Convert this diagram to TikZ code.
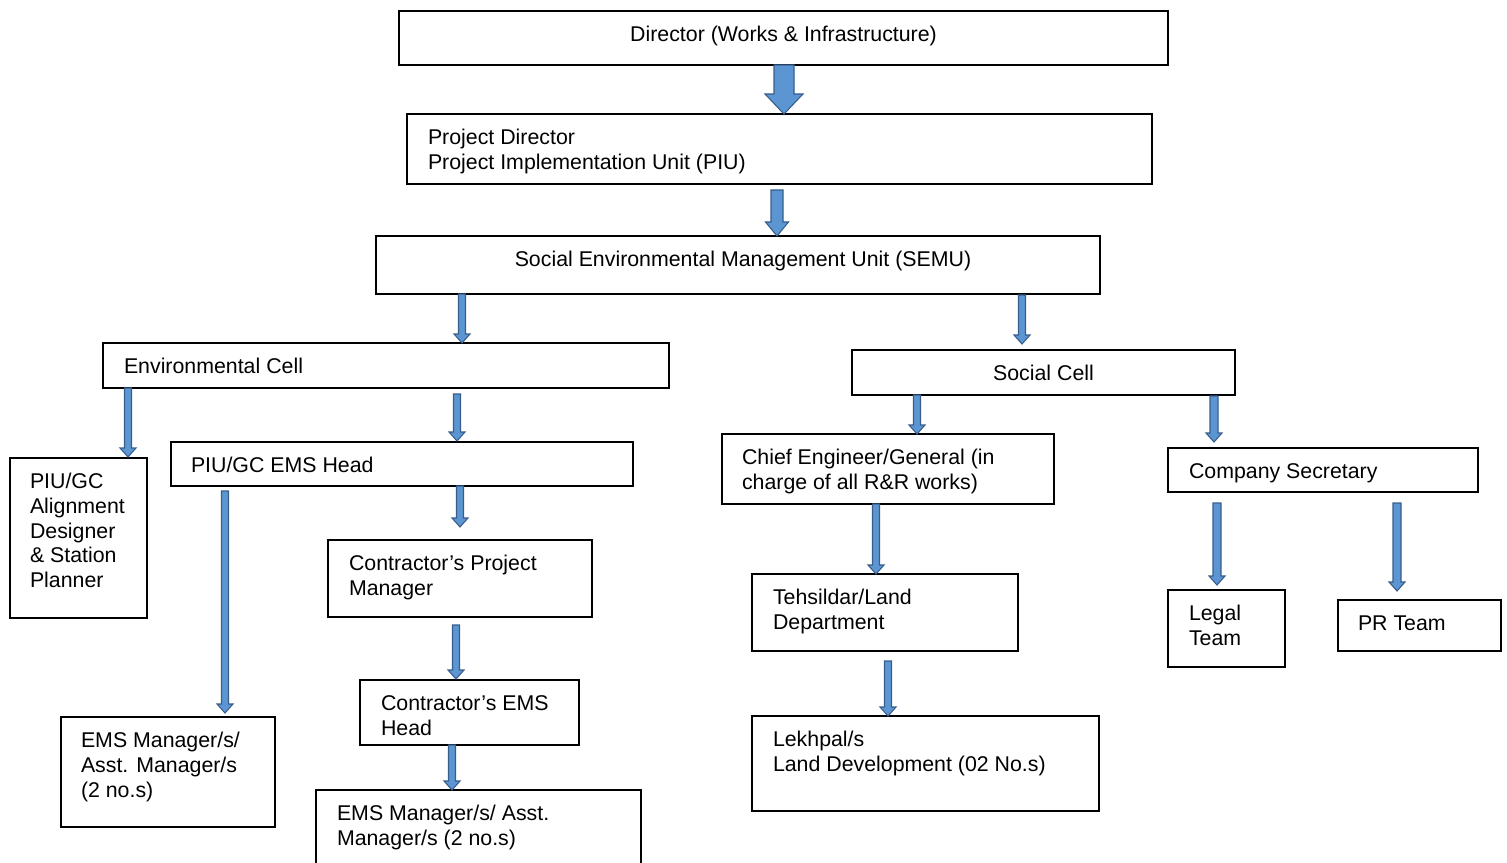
\documentclass[tikz,border=0pt]{standalone}
\usepackage{fontspec}
\setmainfont{Liberation Sans}
\usetikzlibrary{calc}
\newdimen\px \px=0.75pt
\definecolor{abfill}{RGB}{91,150,210}
\definecolor{abline}{RGB}{56,93,138}
\newcommand\bl[4]{\vbox to #2\px{\hsize=#1\px\leftskip=#3\px\rightskip=0pt plus 1fil\parfillskip=0pt plus 1fil\parindent=0pt\vskip13.8\px\noindent\strut#4\par\vfil}}
\newcommand\bc[3]{\vbox to #2\px{\hsize=#1\px\leftskip=0pt plus 1fil\rightskip=0pt plus 1fil\parfillskip=0pt\parindent=0pt\vskip13.8\px\noindent\strut#3\par\vfil}}
\newcommand\barrowx[8]{%
 \coordinate (bX) at (#3,0);
 \coordinate (bA) at ($(bX |- #1.south)+(0,#4)$);
 \coordinate (bB) at ($(bX |- #2.north)+(0,-#5)$);
 \filldraw[barrowst] let \p1=(bA), \p2=(bB) in
   (\x1-#6*0.375pt,\y1) -- (\x1+#6*0.375pt,\y1) -- (\x1+#6*0.375pt,\y2+#8*0.75pt)
   -- (\x1+#7*0.375pt,\y2+#8*0.75pt) -- (\x1,\y2) -- (\x1-#7*0.375pt,\y2+#8*0.75pt)
   -- (\x1-#6*0.375pt,\y2+#8*0.75pt) -- cycle;}
\newcommand\barrow[5]{\barrowx{#1}{#2}{#3}{#4}{#5}{7}{16}{9}}
\begin{document}
\begin{tikzpicture}[x=0.75pt,y=-0.75pt,
  box/.style={draw, line width=1.1pt, anchor=north west, inner sep=0pt, outer sep=0pt, font=\fontsize{16}{18.4}\selectfont},
  barrowst/.style={fill=abfill, draw=abline, line width=0.8pt, line join=miter}]
\useasboundingbox (0,0) rectangle (1507,863);
\node[box] (dir) at (399,11) {\bc{769}{54}{Director (Works \& Infrastructure)}};
\node[box] (pd) at (407,114) {\bl{745}{70}{21}{Project Director\\Project Implementation Unit (PIU)}};
\node[box] (semu) at (376,236) {\bc{724}{58}{\hspace*{10\px}Social Environmental Management Unit (SEMU)}};
\node[box] (env) at (103,343) {\bl{566}{45}{21}{Environmental Cell}};
\node[box] (soc) at (852,350) {\bc{383}{45}{Social Cell}};
\node[box] (align) at (10,458) {\bl{137}{160}{20}{PIU/GC\\Alignment\\Designer\\\& Station\\Planner}};
\node[box] (emsh) at (171,442) {\bl{462}{44}{20}{PIU/GC EMS Head}};
\node[box] (cpm) at (328,540) {\bl{264}{77}{21}{Contractor’s Project\\Manager}};
\node[box] (cems) at (360,680) {\bl{219}{65}{21}{Contractor’s EMS\\Head}};
\node[box] (emsb) at (316,790) {\bl{325}{80}{21}{EMS Manager/s/ Asst.\\Manager/s (2 no.s)}};
\node[box] (emsl) at (61,717) {\bl{214}{110}{20}{EMS Manager/s/\\Asst. Manager/s\\(2 no.s)}};
\node[box] (ce) at (722,434) {\bl{332}{70}{20}{Chief Engineer/General (in\\charge of all R\&R works)}};
\node[box] (teh) at (752,574) {\bl{266}{77}{21}{Tehsildar/Land\\Department}};
\node[box] (lek) at (752,716) {\bl{347}{95}{21}{Lekhpal/s\\Land Development (02 No.s)}};
\node[box] (cs) at (1168,448) {\bl{310}{44}{21}{Company Secretary}};
\node[box] (legal) at (1168,590) {\bl{117}{77}{21}{Legal\\Team}};
\node[box] (pr) at (1338,600) {\bl{163}{51}{20}{PR Team}};
\barrowx{dir}{pd}{784}{0}{0}{20}{38}{20}
\barrowx{pd}{semu}{777}{6}{0}{12}{23}{14}
\barrow{semu}{env}{462}{0}{0}
\barrow{semu}{soc}{1022}{1}{6}
\barrow{env}{align}{128}{0}{1}
\barrow{env}{emsh}{457}{6}{1}
\barrow{emsh}{emsl}{225}{5}{4}
\barrow{emsh}{cpm}{460}{0}{13}
\barrow{cpm}{cems}{456}{8}{1}
\barrow{cems}{emsb}{452}{0}{0}
\barrow{soc}{ce}{917}{0}{0}
\barrowx{soc}{cs}{1214}{1}{6}{8}{16}{9}
\barrow{ce}{teh}{876}{0}{0}
\barrow{teh}{lek}{888}{10}{0}
\barrowx{cs}{legal}{1217}{11}{5}{8}{16}{9}
\barrowx{cs}{pr}{1397}{11}{9}{8}{16}{9}
\end{tikzpicture}
\end{document}
